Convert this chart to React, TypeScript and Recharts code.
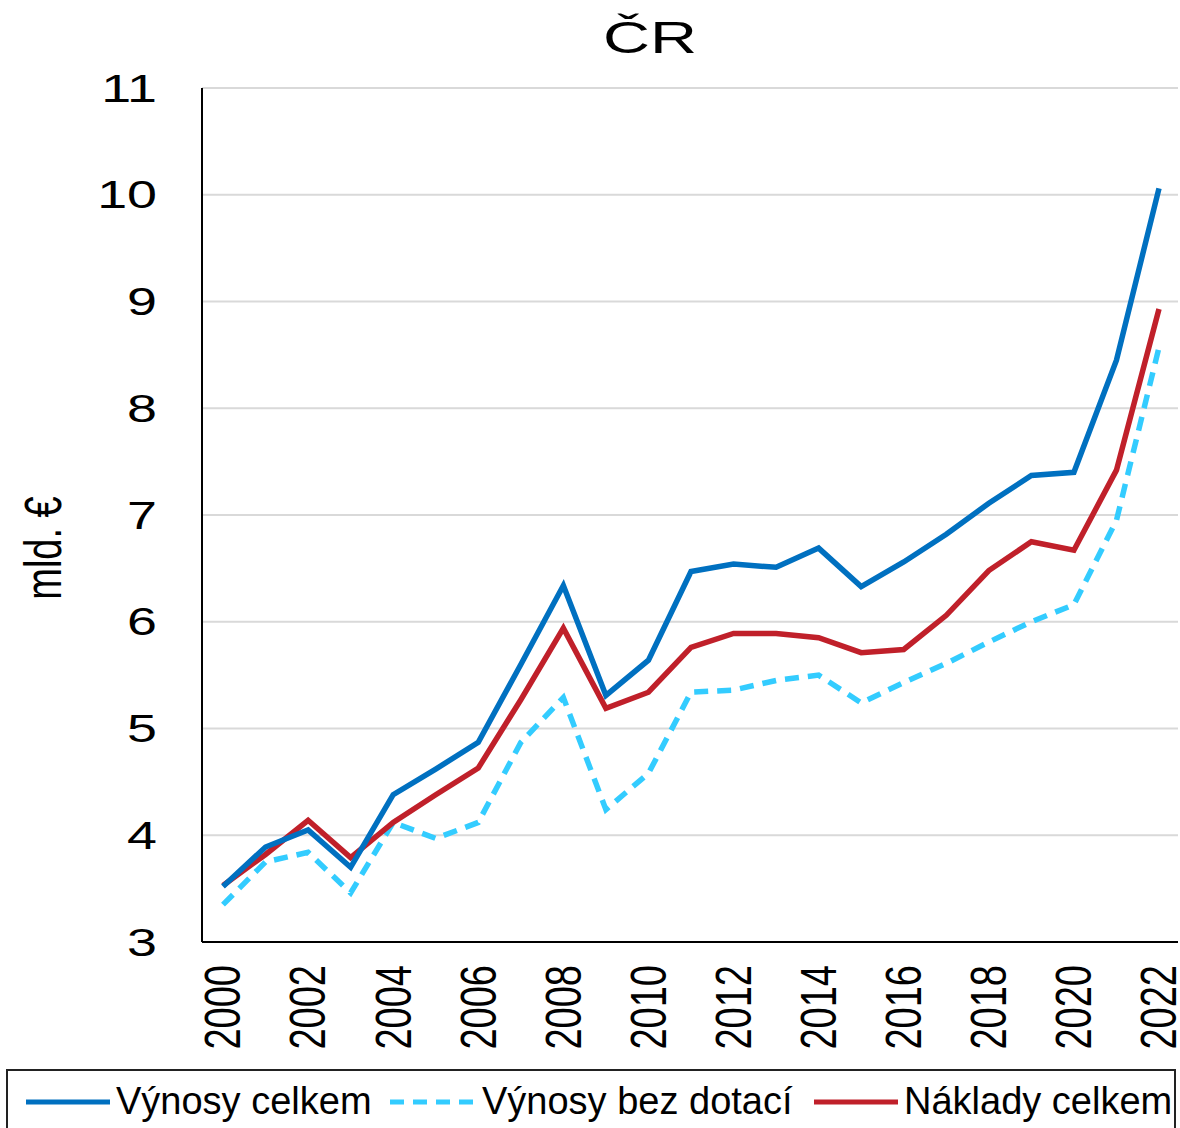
import { CartesianGrid, Line, LineChart, XAxis, YAxis } from "recharts";

const years = [
  "2000", "2001", "2002", "2003", "2004", "2005", "2006", "2007", "2008", "2009", "2010", "2011",
  "2012", "2013", "2014", "2015", "2016", "2017", "2018", "2019", "2020", "2021", "2022",
];

// mld. €
const vynosyCelkem = [
  3.52, 3.89, 4.05, 3.7, 4.38, 4.62, 4.87, 5.6, 6.34, 5.31, 5.64, 6.47,
  6.54, 6.51, 6.69, 6.33, 6.56, 6.82, 7.11, 7.37, 7.4, 8.45, 10.06,
];
const vynosyBezDotaci = [
  3.35, 3.75, 3.84, 3.46, 4.12, 3.97, 4.12, 4.87, 5.29, 4.24, 4.58, 5.34,
  5.36, 5.45, 5.5, 5.24, 5.43, 5.61, 5.81, 6.0, 6.16, 6.95, 8.57,
];
const nakladyCelkem = [
  3.53, 3.82, 4.14, 3.79, 4.12, 4.38, 4.63, 5.27, 5.94, 5.19, 5.34, 5.76,
  5.89, 5.89, 5.85, 5.71, 5.74, 6.06, 6.48, 6.75, 6.67, 7.42, 8.93,
];

const yTicks = [3, 4, 5, 6, 7, 8, 9, 10, 11];

const data = years.map((year, i) => ({
  year,
  celkem: vynosyCelkem[i],
  bezDotaci: vynosyBezDotaci[i],
  naklady: nakladyCelkem[i],
}));

const FONT = "'Liberation Sans', Arial, sans-serif";
const BLUE = "#0070C0";
const LIGHT = "#33CCFF";
const RED = "#C0202A";

// the source picture is stretched sideways, so the axis text gets a scaleX
const YTick = ({ y, payload }: any) => (
  <text
    transform={`translate(157,${y}) scale(1.38,1)`}
    textAnchor="end"
    dominantBaseline="central"
    fontSize={39}
    fontFamily={FONT}
    fill="#000"
  >
    {payload.value}
  </text>
);

const XTick = ({ x, payload }: any) => (
  <text
    transform={`translate(${x},965) scale(1.3,1) rotate(-90)`}
    textAnchor="end"
    dominantBaseline="central"
    fontSize={38}
    fontFamily={FONT}
    fill="#000"
  >
    {payload.value}
  </text>
);

const YLabel = () => (
  <text
    transform="translate(43,548) scale(1.35,1) rotate(-90)"
    textAnchor="middle"
    dominantBaseline="central"
    fontSize={38}
    fontFamily={FONT}
    fill="#000"
  >
    mld. €
  </text>
);

const legendItems = [
  { name: "Výnosy celkem", color: BLUE, dash: undefined, lineX: 22, textX: 114 },
  { name: "Výnosy bez dotací", color: LIGHT, dash: "14 9", lineX: 386, textX: 480 },
  { name: "Náklady celkem", color: RED, dash: undefined, lineX: 810, textX: 902 },
];

export default function App() {
  return (
    <div style={{ position: "absolute", left: 0, top: 0, width: 1180, height: 1128, background: "#fff", fontFamily: FONT }}>
      <div
        style={{
          position: "absolute",
          left: 550,
          top: 15,
          width: 200,
          textAlign: "center",
          fontSize: 44,
          lineHeight: "46px",
          transform: "scaleX(1.48)",
        }}
      >
        ČR
      </div>

      <LineChart width={1180} height={1060} data={data} margin={{ top: 88, right: 2, bottom: 0, left: 0 }}>
        <CartesianGrid vertical={false} stroke="#d9d9d9" strokeWidth={2} />
        <XAxis
          dataKey="year"
          height={118}
          interval={1}
          padding={{ left: 21, right: 19 }}
          tick={<XTick />}
          tickLine={false}
          axisLine={{ stroke: "#000", strokeWidth: 2 }}
        />
        <XAxis
          xAxisId="top"
          dataKey="year"
          orientation="top"
          height={0}
          tick={false}
          tickLine={false}
          axisLine={{ stroke: "#000", strokeWidth: 2 }}
        />
        <YAxis
          width={202}
          domain={[3, 11]}
          ticks={yTicks}
          tick={<YTick />}
          tickLine={false}
          axisLine={{ stroke: "#000", strokeWidth: 2 }}
          label={<YLabel />}
        />
        <YAxis
          yAxisId="right"
          orientation="right"
          width={0}
          domain={[3, 11]}
          tick={false}
          tickLine={false}
          axisLine={{ stroke: "#000", strokeWidth: 2 }}
        />
        <Line
          type="linear"
          dataKey="bezDotaci"
          stroke={LIGHT}
          strokeWidth={5.5}
          strokeDasharray="14 9"
          dot={false}
          isAnimationActive={false}
        />
        <Line type="linear" dataKey="naklady" stroke={RED} strokeWidth={5.5} dot={false} isAnimationActive={false} />
        <Line type="linear" dataKey="celkem" stroke={BLUE} strokeWidth={5.5} dot={false} isAnimationActive={false} />
      </LineChart>

      <div
        style={{
          position: "absolute",
          left: 6,
          top: 1069,
          width: 1170,
          height: 64,
          border: "2px solid #222",
          boxSizing: "border-box",
        }}
      >
        {legendItems.map((it) => (
          <div key={it.name}>
            <svg style={{ position: "absolute", left: it.lineX - 6, top: 26 }} width={90} height={10}>
              <line x1={2} y1={5} x2={86} y2={5} stroke={it.color} strokeWidth={5} strokeDasharray={it.dash} />
            </svg>
            <div
              style={{
                position: "absolute",
                left: it.textX - 6,
                top: 8,
                fontSize: 38,
                lineHeight: "44px",
                whiteSpace: "nowrap",
              }}
            >
              {it.name}
            </div>
          </div>
        ))}
      </div>
    </div>
  );
}
